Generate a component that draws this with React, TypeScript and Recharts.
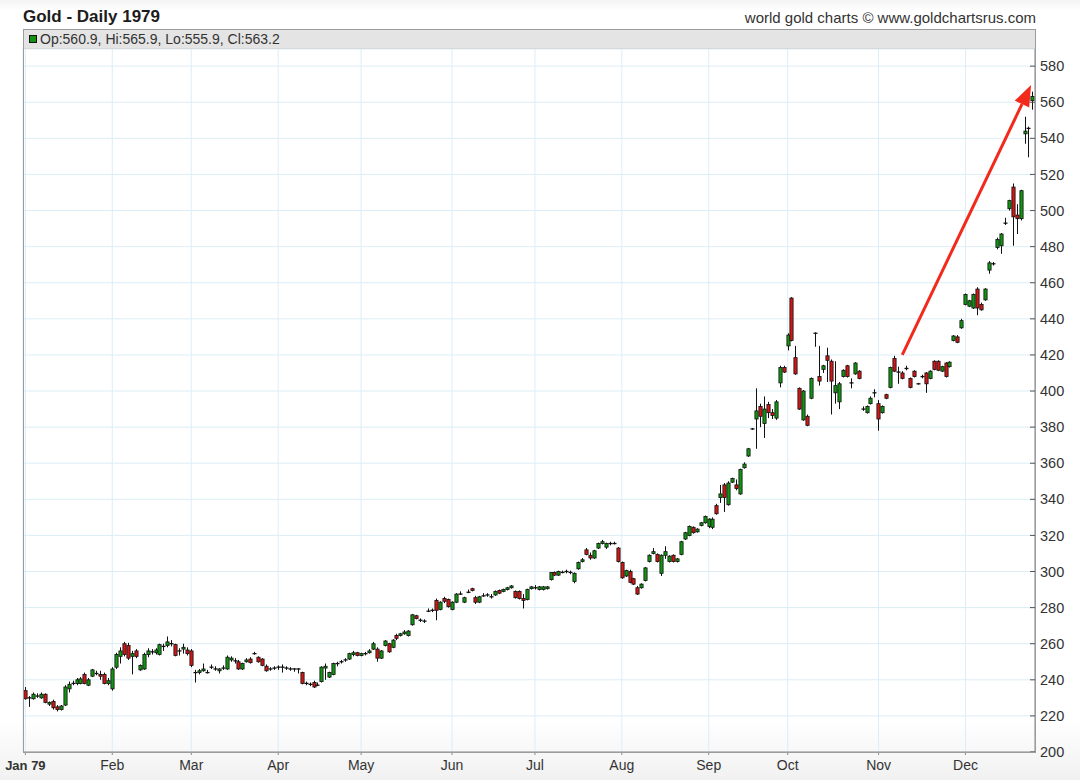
import React from 'react';
import { ComposedChart, Bar, XAxis, YAxis, CartesianGrid, ReferenceLine } from 'recharts';

type Ohlc = [number, number, number, number]; // open, high, low, close

const jan: Ohlc[] = [
  [234, 236, 229, 229.5], [230, 231, 225, 229.5], [229.5, 233, 229, 232], [231, 232.5, 230, 231.5],
  [230, 233, 229.5, 232], [232, 232.5, 227, 227.5], [226.5, 228, 225.5, 227.5], [228, 229, 223.5, 224.5],
  [225, 226, 222.5, 223.5], [223.5, 226, 223, 225.5], [226, 237, 225.5, 236], [235, 239, 233, 237.5],
  [238, 239.5, 237, 238.5], [238, 241, 237, 240], [238, 241.5, 237.5, 240.5], [243, 244, 237.5, 238],
  [237, 241, 236.5, 240], [242, 246, 241.5, 245.5], [243.5, 245, 242.5, 243.5], [243, 245, 240, 242],
  [243, 244, 237.5, 238], [238, 241, 237, 239.5],
];
const feb: Ohlc[] = [
  [235, 247, 234, 246], [247, 255, 246, 254], [253, 258, 249, 256], [260, 261, 253, 254],
  [259, 260.5, 251, 252], [253, 256, 243, 254.5], [256, 257, 252, 253], [245.5, 248.5, 245, 248],
  [246, 255, 245.5, 254], [254, 257.5, 252.5, 256], [255.5, 257, 254, 256], [255, 257.5, 254, 256.5],
  [254, 260, 253.5, 259.5], [258.5, 260, 256, 259], [259, 264, 258, 261], [260, 262, 258.5, 260.5],
  [259.5, 260, 253, 253.5], [256, 257.5, 253.5, 256], [257, 260, 254.5, 258], [256.5, 258, 253.5, 254.5],
];
const mar: Ohlc[] = [
  [256, 257, 247, 248], [244, 245.5, 238.5, 243.5], [244, 246, 243, 245], [245, 249, 244.5, 246],
  [244, 245.5, 243.5, 244.5], [247, 248.5, 246, 247.5], [246, 247.5, 245, 246.5], [245, 246.5, 243.5, 246],
  [246.5, 248, 245.5, 247], [246, 253.5, 245.5, 252.5], [251, 253, 250, 252], [250.5, 252, 249, 250.5],
  [250, 251, 245.5, 246], [246, 249.5, 245.5, 249], [250, 252, 249.5, 251], [251.5, 252.5, 249, 249.5],
  [254.5, 255.5, 254, 254.5], [252.5, 253, 249.5, 250], [251.5, 252, 247.5, 248], [247.5, 248.5, 244.5, 245],
  [246, 247, 245, 246], [246.5, 247.5, 245.5, 246.5],
];
const apr: Ohlc[] = [
  [247, 248, 245.5, 247], [247, 248.5, 244, 246.5], [246.5, 247.5, 245.5, 246.5], [246, 247, 245, 246],
  [246, 246.5, 244.5, 245.5], [246, 246.5, 243.5, 245.5], [244, 244.5, 237.5, 238], [238, 239, 237, 238],
  [237.5, 238.5, 236.5, 237.5], [238.5, 239.5, 235.5, 236], [237, 238.5, 236.5, 237.5], [239, 247.5, 238.5, 247],
  [246.5, 249, 240, 247.5], [241.5, 244.5, 241, 244], [243, 249.5, 242.5, 249], [249, 250, 247.5, 249.5],
  [250, 251, 249, 250.5], [251, 252, 250, 251.5], [251.5, 255, 251, 254.5], [254, 256, 253, 255],
  [255, 255.5, 253, 253.5],
];
const may: Ohlc[] = [
  [253.5, 255, 253, 254.5], [254.5, 255.5, 253.5, 255], [255, 257, 254.5, 256], [257, 261, 256.5, 260],
  [257, 258, 250, 252], [252, 256.5, 251.5, 256], [259, 262, 258.5, 261.5], [260, 260.5, 255, 255.5],
  [258, 262.5, 257.5, 262], [264.5, 265.5, 262, 263], [264.5, 266, 264, 265.5], [265.5, 267.5, 265, 266.5],
  [264.5, 267.5, 264, 267], [270.5, 276.5, 270, 276], [275.5, 276, 273.5, 274], [273, 274, 272, 273],
  [272.5, 273.5, 271.5, 272.5], [278, 279.5, 277.5, 278.5], [278.5, 279.5, 277.5, 278], [284, 285, 273, 278.5],
  [279, 283.5, 278.5, 283], [285, 286, 282.5, 283.5], [284.5, 285, 280, 280.5],
];
const jun: Ohlc[] = [
  [279, 283.5, 278.5, 283], [283, 288, 282.5, 287.5], [287.5, 289, 287, 288], [283, 286, 282.5, 285.5],
  [288.5, 290, 288, 289], [290.5, 291, 289, 289.5], [285.5, 286.5, 282, 283], [283, 286.5, 282.5, 286],
  [286.5, 288, 286, 287], [287, 288, 286, 287.5], [286, 287.5, 285, 286.5], [287, 289.5, 286.5, 289],
  [289.5, 290, 287.5, 288], [289, 290.5, 288.5, 290], [290, 291.5, 289.5, 291], [291, 292.5, 290.5, 292],
  [289, 289.5, 285, 285.5], [289, 289.5, 284.5, 285], [285, 287.5, 279.5, 284], [284.5, 290.5, 284, 290],
  [290.5, 292, 290, 291.5],
];
const jul: Ohlc[] = [
  [291, 292.5, 290, 291.5], [290, 292, 289.5, 291.5], [290, 292, 289.5, 291.5], [290.5, 292, 290, 291.5],
  [295.5, 299.5, 295, 299.5], [299.5, 300, 297.5, 298], [298, 300.5, 297.5, 300], [299.5, 300.5, 299, 300],
  [300, 301, 299, 300.5], [299.5, 300.5, 298.5, 299.5], [294.5, 299.5, 293.5, 299], [301.5, 305.5, 301, 305],
  [305.5, 307.5, 305, 306.5], [312, 313, 309, 309.5], [309, 310.5, 306.5, 307.5], [307.5, 312, 307, 311.5],
  [313, 316, 312.5, 315.5], [315.5, 317.5, 315, 316.5], [313.5, 316, 312.5, 315.5], [315.5, 316.5, 314.5, 316],
  [315.5, 316.5, 315, 316], [313, 313.5, 305, 305.5],
];
const aug: Ohlc[] = [
  [305, 305.5, 296, 296.5], [297.5, 301, 297, 300.5], [300, 301, 293.5, 294], [296, 296.5, 292.5, 293],
  [291, 292, 287, 287.5], [291, 293.5, 290.5, 293], [295, 302.5, 294.5, 302], [305.5, 309.5, 305, 309],
  [310, 313, 309.5, 311], [309.5, 310, 305, 305.5], [299, 309.5, 297.5, 309], [309, 314, 307, 311],
  [305.5, 309, 305, 308.5], [309, 309.5, 305, 305.5], [305.5, 307.5, 305, 307], [309.5, 317, 309, 316.5],
  [318, 322, 317.5, 321.5], [320, 325.5, 319.5, 325], [324.5, 325, 321, 321.5], [322, 324, 321.5, 323.5],
  [325.5, 327.5, 325, 327], [327, 331, 326.5, 330.5],
];
const sep: Ohlc[] = [
  [325, 329.5, 324, 329], [324.5, 330, 323.5, 329], [336.5, 337.5, 331.5, 332], [341, 348, 338, 343],
  [348, 349, 333, 341], [337, 350, 336.5, 349], [349.5, 352, 349, 351.5], [348, 351, 345, 346],
  [343, 357, 342.5, 356.5], [357.5, 360.5, 357, 359.5], [364, 368.5, 363.5, 368], [379, 379.5, 378.5, 379],
  [384.5, 401.5, 368, 389], [391.5, 393, 380, 386], [382, 397, 374, 390], [392.5, 394, 385, 388],
  [388, 390, 384.5, 386.5], [385, 395, 384, 394], [404.5, 414, 402, 413], [413, 414, 410, 410.5],
];
const oct: Ohlc[] = [
  [425, 432, 422.5, 431], [451.5, 452, 427.5, 428], [418.5, 425, 409, 409.5], [401.5, 402, 389.5, 390],
  [384, 400.5, 383.5, 400], [386, 387, 380.5, 381], [396, 407.5, 395.5, 407], [432, 432.5, 424.5, 432],
  [408, 425, 403, 405.5], [412, 414.5, 410, 414], [419.5, 424, 405, 417], [416.5, 417.5, 387, 405.5],
  [399, 416.5, 393, 403], [394, 405, 390, 404], [408, 412, 407.5, 411.5], [414, 414.5, 407.5, 408],
  [404.5, 407, 401.5, 404.5], [409.5, 416, 409, 415.5], [411, 411.5, 406.5, 407], [390, 391.5, 389, 390],
  [388, 392, 387.5, 391.5], [393, 397, 392.5, 396], [399, 401, 396.5, 399],
];
const nov: Ohlc[] = [
  [393, 395, 378, 384.5], [388, 392, 387.5, 391.5], [398, 398.5, 395.5, 396], [402, 413.5, 401.5, 413],
  [418, 419.5, 410.5, 411], [410.5, 413.5, 404, 410.5], [410, 411, 406.5, 407], [412.5, 414, 411.5, 412.5],
  [407, 407.5, 401.5, 402], [411, 411.5, 407.5, 408], [404, 404.5, 403.5, 404], [408, 409, 407, 408.5],
  [410, 410.5, 399, 404], [407, 411.5, 406.5, 411], [416.5, 417, 411.5, 412], [416.5, 417, 411, 411.5],
  [411, 414, 410.5, 413.5], [415.5, 416, 407.5, 408], [413.5, 416.5, 413, 416], [428, 431, 427.5, 430.5],
  [430, 431, 426.5, 427], [435, 440, 434.5, 439],
];
const dec: Ohlc[] = [
  [448, 454, 447.5, 453.5], [447, 450.5, 446.5, 450], [446, 454, 445.5, 453.5], [456.5, 457.5, 442, 446],
  [448, 449, 444.5, 445], [450.5, 457, 450, 456.5], [467, 472, 465, 471], [470.5, 471.5, 469.5, 470.5],
  [479.5, 485, 478.5, 484], [480.5, 487.5, 476, 487], [493, 496, 492, 493], [501, 506, 500, 505.5],
  [513, 515, 480.5, 496.5], [497.5, 503.5, 487, 495.5], [495.5, 511.5, 494.5, 511], [542.5, 552, 537, 544],
  [545.5, 546.5, 529.5, 545], [560.9, 565.9, 555.9, 563.2],
];

const monthBars = [jan, feb, mar, apr, may, jun, jul, aug, sep, oct, nov, dec];
const monthLabels = ['Jan 79', 'Feb', 'Mar', 'Apr', 'May', 'Jun', 'Jul', 'Aug', 'Sep', 'Oct', 'Nov', 'Dec'];
const priceTicks = [200, 220, 240, 260, 280, 300, 320, 340, 360, 380, 400, 420, 440, 460, 480, 500, 520, 540, 560, 580];

// annotation arrow, in (day index, price)
const arrowStart = { i: 222, v: 420 };
const arrowEnd = { i: 254.6, v: 569.5 };

const monthStarts: number[] = [];
let count = 0;
monthBars.forEach((m) => {
  monthStarts.push(count);
  count += m.length;
});

const data = monthBars.flat().map(([o, h, l, c], i) => ({ i, o, h, l, c, range: [l, h] }));
const last = data[data.length - 1];

const font = '"Liberation Sans", Arial, sans-serif';
const UP = '#129412';
const DOWN = '#d01616';
const ARROW = '#f22a1c';

function Candle(props: any) {
  const { x, y, width, height, payload } = props;
  if (x == null || y == null || !payload) return null;
  const { o, h, l, c } = payload;
  const top = Math.min(y, y + height);
  const bottom = Math.max(y, y + height);
  const k = (bottom - top) / (h - l);
  const cx = Math.round(x + width / 2) + 0.5;
  const yo = top + (h - o) * k;
  const yc = top + (h - c) * k;
  const flat = Math.abs(yc - yo) < 1.2;
  return (
    <g>
      <line x1={cx} x2={cx} y1={top} y2={bottom} stroke="#111" strokeWidth={1} />
      {flat ? (
        <line x1={cx - 2} x2={cx + 2} y1={yo} y2={yo} stroke="#111" strokeWidth={1.3} />
      ) : (
        <rect
          x={cx - 1.6}
          y={Math.min(yo, yc)}
          width={3.2}
          height={Math.abs(yc - yo)}
          fill={c >= o ? UP : DOWN}
          stroke="#111"
          strokeWidth={0.8}
        />
      )}
    </g>
  );
}

function MonthTick(props: any) {
  const { x, y, payload } = props;
  const idx = monthStarts.indexOf(payload.value);
  const first = idx === 0;
  return (
    <text x={x} y={y} dy={13} textAnchor="middle" fontSize={first ? 13 : 14} fill="#333" fontFamily={font}
      fontWeight={first ? 'bold' : 'normal'}>
      {monthLabels[idx]}
    </text>
  );
}

function Arrow(props: any) {
  const { x1, y1, x2, y2 } = props;
  const a = Math.atan2(y2 - y1, x2 - x1);
  const len = 21;
  const half = 8;
  const bx = x2 - len * Math.cos(a);
  const by = y2 - len * Math.sin(a);
  const nx = -Math.sin(a);
  const ny = Math.cos(a);
  return (
    <g>
      <line x1={x1} y1={y1} x2={bx} y2={by} stroke={ARROW} strokeWidth={3} />
      <polygon points={`${x2},${y2} ${bx + nx * half},${by + ny * half} ${bx - nx * half},${by - ny * half}`} fill={ARROW} />
    </g>
  );
}

export default function App() {
  return (
    <div
      style={{
        position: 'relative',
        width: 1080,
        height: 780,
        fontFamily: font,
        background: 'linear-gradient(to bottom, #f3f3f3 0px, #ffffff 10px, #ffffff 720px, #f1f1f1 780px)',
        overflow: 'hidden',
      }}
    >
      <style>{'body{margin:0}'}</style>
      <div style={{ position: 'absolute', left: 23, top: 7, fontSize: 17, fontWeight: 'bold', color: '#1c1c1c', lineHeight: 'normal' }}>
        Gold - Daily 1979
      </div>
      <div style={{ position: 'absolute', right: 44, top: 9, fontSize: 15, color: '#333', lineHeight: 'normal' }}>
        world gold charts © www.goldchartsrus.com
      </div>
      <div style={{ position: 'absolute', left: 0, top: 0 }}>
        <ComposedChart width={1080} height={780} data={data} margin={{ top: 49, right: 0, left: 23, bottom: 0 }}>
          <CartesianGrid stroke="#dcedf7" strokeWidth={1} />
          <XAxis
            dataKey="i"
            type="number"
            domain={[-0.6, 255.6]}
            ticks={monthStarts}
            interval={0}
            height={28}
            tickSize={3}
            tickMargin={2}
            tick={<MonthTick />}
            axisLine={{ stroke: '#8c8c8c' }}
            tickLine={{ stroke: '#8c8c8c' }}
          />
          <YAxis
            orientation="right"
            type="number"
            domain={[200, 589.5]}
            ticks={priceTicks}
            interval={0}
            width={45}
            tickSize={-5}
            tickMargin={10}
            tick={{ fontSize: 14.5, fill: '#333', fontFamily: font }}
            axisLine={{ stroke: '#8c8c8c' }}
            tickLine={{ stroke: '#555' }}
          />
          <Bar dataKey="range" barSize={4} shape={Candle} isAnimationActive={false} />
          <ReferenceLine
            segment={[
              { x: arrowStart.i, y: arrowStart.v },
              { x: arrowEnd.i, y: arrowEnd.v },
            ]}
            ifOverflow="visible"
            shape={Arrow}
          />
        </ComposedChart>
      </div>
      <div
        style={{
          position: 'absolute',
          left: 23,
          top: 29,
          width: 1013,
          height: 20,
          boxSizing: 'border-box',
          background: '#e4e4e4',
          borderBottom: '1px solid #d8d8d8',
          display: 'flex',
          alignItems: 'center',
          fontSize: 14,
          color: '#333',
        }}
      >
        <span
          style={{
            display: 'inline-block',
            width: 6,
            height: 6,
            marginLeft: 6,
            marginRight: 3,
            background: UP,
            border: '1px solid #111',
          }}
        />
        {`Op:${last.o}, Hi:${last.h}, Lo:${last.l}, Cl:${last.c}`}
      </div>
      <div
        style={{
          position: 'absolute',
          left: 23,
          top: 29,
          width: 1013,
          height: 724,
          boxSizing: 'border-box',
          border: '1px solid #9c9c9c',
          pointerEvents: 'none',
        }}
      />
    </div>
  );
}
